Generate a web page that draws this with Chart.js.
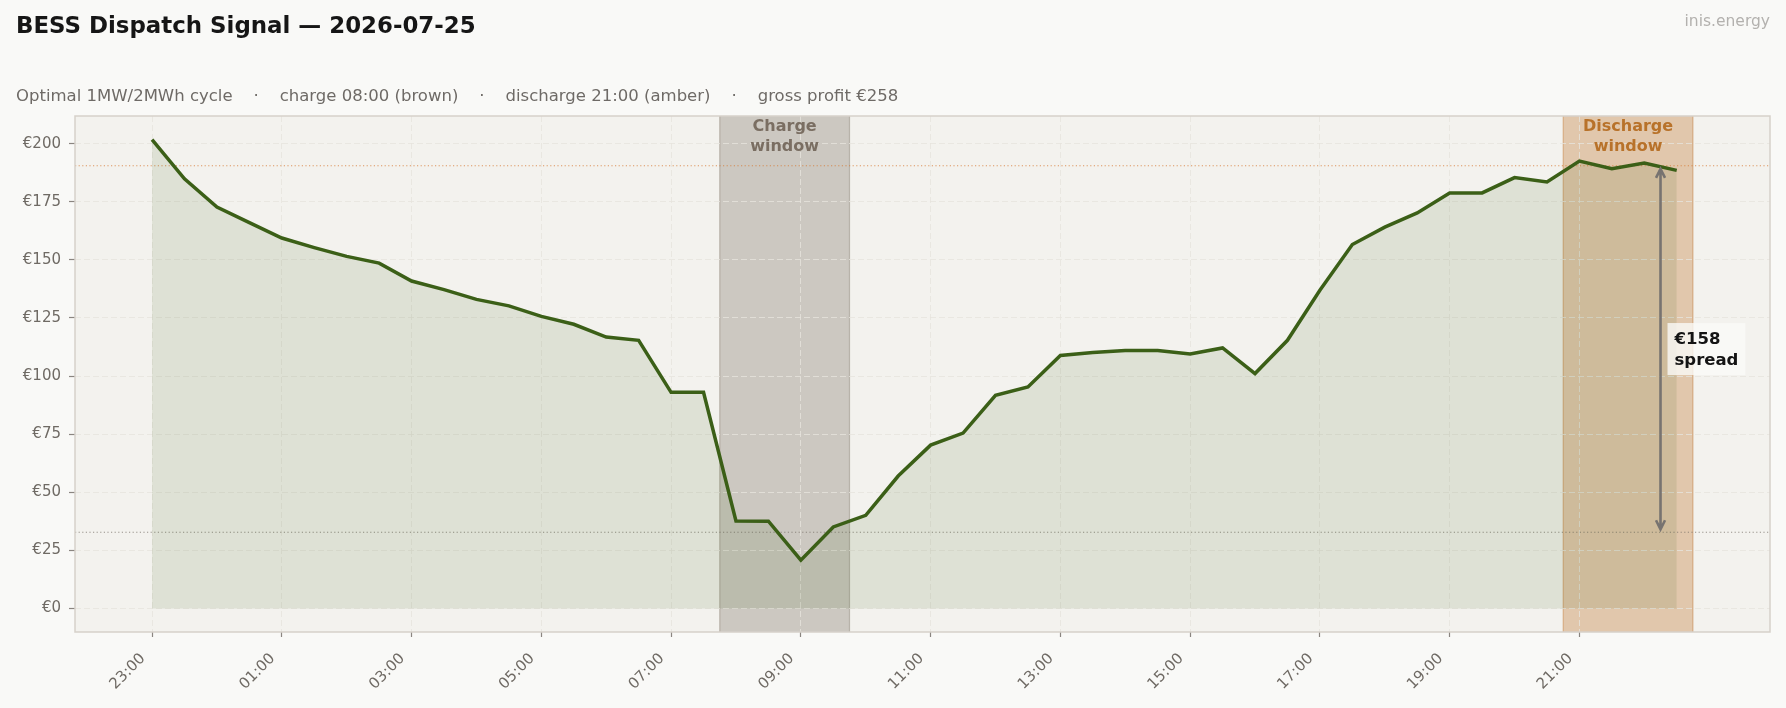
<!DOCTYPE html>
<html>
<head>
<meta charset="utf-8">
<title>BESS Dispatch Signal</title>
<script src="https://cdn.jsdelivr.net/npm/chart.js@4.4.1/dist/chart.umd.min.js"></script>
<style>
  html, body { margin: 0; padding: 0; background: #f9f9f7; }
  #wrap { width: 1786px; height: 708px; position: relative; }
</style>
</head>
<body>
<div id="wrap"><canvas id="bessChart" width="1786" height="708"></canvas></div>
<script>
// half-hourly day-ahead prices, 23:00 -> 22:30
const times = [
    '23:00', '23:30', '00:00', '00:30', '01:00', '01:30', '02:00', '02:30',
    '03:00', '03:30', '04:00', '04:30', '05:00', '05:30', '06:00', '06:30',
    '07:00', '07:30', '08:00', '08:30', '09:00', '09:30', '10:00', '10:30',
    '11:00', '11:30', '12:00', '12:30', '13:00', '13:30', '14:00', '14:30',
    '15:00', '15:30', '16:00', '16:30', '17:00', '17:30', '18:00', '18:30',
    '19:00', '19:30', '20:00', '20:30', '21:00', '21:30', '22:00', '22:30'
];
const prices = [
    201.7, 184.9, 172.7, 166.0, 159.4, 155.3, 151.5, 148.6,
    140.9, 137.2, 133.0, 130.2, 125.7, 122.3, 116.8, 115.4,
    93.0, 93.0, 37.7, 37.6, 20.8, 35.1, 40.1, 57.0,
    70.3, 75.5, 91.7, 95.3, 108.9, 110.1, 111.0, 111.0,
    109.5, 112.1, 101.1, 115.4, 136.9, 156.6, 164.1, 170.2,
    178.8, 178.8, 185.4, 183.5, 192.5, 189.2, 191.7, 188.5
];
const xTickTimes = ['23:00', '01:00', '03:00', '05:00', '07:00', '09:00',
    '11:00', '13:00', '15:00', '17:00', '19:00', '21:00'];
const yTickValues = [0, 25, 50, 75, 100, 125, 150, 175, 200];
const yTickLabels = ['€0', '€25', '€50', '€75', '€100', '€125', '€150', '€175', '€200'];
const chargeWindow = ['07:45', '09:45'];
const dischargeWindow = ['20:45', '22:45'];
const spreadArrowTime = '22:15';

const titleText = 'BESS Dispatch Signal — 2026-07-25';
const subtitleText = 'Optimal 1MW/2MWh cycle    ·    charge 08:00 (brown)    ·    discharge 21:00 (amber)    ·    gross profit €258';

// hours since 23:00 of the previous day
function toHours(t) {
    const [h, m] = t.split(':').map(Number);
    let v = h + m / 60 - 23;
    if (v < 0) v += 24;
    return v;
}

function windowAvg(win) {
    const a = toHours(win[0]), b = toHours(win[1]);
    const vals = prices.filter((p, i) => toHours(times[i]) >= a && toHours(times[i]) <= b);
    return vals.reduce((s, v) => s + v, 0) / vals.length;
}

const chargeAvg = windowAvg(chargeWindow);
const dischargeAvg = windowAvg(dischargeWindow);
const spread = Math.round(dischargeAvg - chargeAvg);

const FONT = "'DejaVu Sans', sans-serif";

const overlay = {
    id: 'overlay',
    beforeDraw(chart) {
        const { ctx, chartArea: a, scales: { x } } = chart;
        ctx.save();
        ctx.fillStyle = '#f3f2ee';
        ctx.fillRect(a.left, a.top, a.width, a.height);
        const span = (win, fill, edge) => {
            const x1 = x.getPixelForValue(toHours(win[0]));
            const x2 = x.getPixelForValue(toHours(win[1]));
            ctx.fillStyle = fill;
            ctx.fillRect(x1, a.top, x2 - x1, a.height);
            ctx.strokeStyle = edge;
            ctx.lineWidth = 1.2;
            ctx.beginPath();
            ctx.moveTo(x1, a.top); ctx.lineTo(x1, a.bottom);
            ctx.moveTo(x2, a.top); ctx.lineTo(x2, a.bottom);
            ctx.stroke();
        };
        span(chargeWindow, 'rgba(116,102,88,0.30)', 'rgba(116,102,88,0.35)');
        span(dischargeWindow, 'rgba(184,100,20,0.30)', 'rgba(184,100,20,0.35)');
        ctx.restore();
    },
    beforeDatasetsDraw(chart) {
        const { ctx, chartArea: a, scales: { y } } = chart;
        ctx.save();
        ctx.lineWidth = 1.1;
        ctx.setLineDash([1.2, 2.4]);
        const hline = (v, color) => {
            const py = y.getPixelForValue(v);
            ctx.strokeStyle = color;
            ctx.beginPath();
            ctx.moveTo(a.left, py);
            ctx.lineTo(a.right, py);
            ctx.stroke();
        };
        hline(dischargeAvg, 'rgba(214,120,50,0.75)');
        hline(chargeAvg, 'rgba(120,112,104,0.75)');
        ctx.restore();
    },
    afterDatasetsDraw(chart) {
        const { ctx, chartArea: a, scales: { x, y } } = chart;
        ctx.save();

        // window labels
        ctx.font = 'bold 16px ' + FONT;
        ctx.textAlign = 'center';
        ctx.textBaseline = 'alphabetic';
        const winLabel = (win, color, l1) => {
            const cx = (x.getPixelForValue(toHours(win[0])) + x.getPixelForValue(toHours(win[1]))) / 2;
            ctx.fillStyle = color;
            ctx.fillText(l1, cx, a.top + 15);
            ctx.fillText('window', cx, a.top + 35);
        };
        winLabel(chargeWindow, '#7a6e62', 'Charge');
        winLabel(dischargeWindow, '#b8722a', 'Discharge');

        // spread arrow
        const ax = x.getPixelForValue(toHours(spreadArrowTime));
        const yHi = y.getPixelForValue(dischargeAvg) + 3;
        const yLo = y.getPixelForValue(chargeAvg) - 3;
        ctx.strokeStyle = '#777370';
        ctx.lineWidth = 2.6;
        ctx.beginPath();
        ctx.moveTo(ax, yHi); ctx.lineTo(ax, yLo);
        ctx.moveTo(ax - 4.5, yHi + 9); ctx.lineTo(ax, yHi); ctx.lineTo(ax + 4.5, yHi + 9);
        ctx.moveTo(ax - 4.5, yLo - 9); ctx.lineTo(ax, yLo); ctx.lineTo(ax + 4.5, yLo - 9);
        ctx.stroke();

        // spread label
        const midY = y.getPixelForValue((dischargeAvg + chargeAvg) / 2);
        const tx = ax + 14;
        ctx.font = 'bold 16.5px ' + FONT;
        const l1 = '€' + spread, l2 = 'spread';
        const w = Math.max(ctx.measureText(l1).width, ctx.measureText(l2).width);
        ctx.fillStyle = 'rgba(250,250,248,0.8)';
        ctx.fillRect(tx - 7, midY - 26, w + 14, 52);
        ctx.fillStyle = '#141414';
        ctx.textAlign = 'left';
        ctx.textBaseline = 'alphabetic';
        ctx.fillText(l1, tx, midY - 5);
        ctx.fillText(l2, tx, midY + 16);

        // frame
        ctx.strokeStyle = '#d6d1ca';
        ctx.lineWidth = 1.5;
        ctx.strokeRect(a.left, a.top, a.width, a.height);
        ctx.restore();
    },
    afterDraw(chart) {
        const { ctx } = chart;
        ctx.save();
        ctx.textBaseline = 'alphabetic';
        ctx.textAlign = 'left';
        ctx.fillStyle = '#161616';
        ctx.font = 'bold 22.9px ' + FONT;
        ctx.fillText(titleText, 16, 33);
        ctx.fillStyle = '#6e6a66';
        ctx.font = '16.5px ' + FONT;
        ctx.fillText(subtitleText, 16, 101);
        ctx.fillStyle = '#b3b1ae';
        ctx.font = '15.5px ' + FONT;
        ctx.textAlign = 'right';
        ctx.fillText('inis.energy', 1770, 26);
        ctx.restore();
    }
};

const ctx = document.getElementById('bessChart').getContext('2d');
new Chart(ctx, {
    type: 'line',
    data: {
        datasets: [{
            label: 'Price',
            data: prices.map((p, i) => ({ x: toHours(times[i]), y: p })),
            borderColor: '#3b5f17',
            backgroundColor: 'rgba(58,95,22,0.11)',
            borderWidth: 3.5,
            pointRadius: 0,
            tension: 0,
            fill: 'origin'
        }]
    },
    options: {
        responsive: false,
        animation: false,
        layout: { padding: { top: 116, right: 16, left: 0, bottom: 0 } },
        plugins: {
            legend: { display: false },
            tooltip: { enabled: false }
        },
        scales: {
            x: {
                type: 'linear',
                min: -1.1875,
                max: 24.9375,
                afterBuildTicks: s => { s.ticks = xTickTimes.map(t => ({ value: toHours(t) })); },
                afterFit: s => { s.height = 76; s.paddingLeft = 0; s.paddingRight = 0; },
                border: { display: false, dash: [6, 3] },
                grid: {
                    color: '#e6e3dd',
                    lineWidth: 0.8,
                    tickColor: '#8a8580',
                    tickLength: 5,
                    tickWidth: 1.2
                },
                ticks: {
                    autoSkip: false,
                    minRotation: 45,
                    maxRotation: 45,
                    padding: 13,
                    labelOffset: -9,
                    color: '#6f6a64',
                    font: { family: FONT, size: 15 },
                    callback: v => xTickTimes.find(t => toHours(t) === v)
                }
            },
            y: {
                min: -10.1,
                max: 211.9,
                afterBuildTicks: s => { s.ticks = yTickValues.map(v => ({ value: v })); },
                afterFit: s => { s.width = 75; s.paddingTop = 0; s.paddingBottom = 0; },
                border: { display: false, dash: [6, 3] },
                grid: {
                    color: '#e6e3dd',
                    lineWidth: 0.8,
                    tickColor: '#8a8580',
                    tickLength: 6,
                    tickWidth: 1.2
                },
                ticks: {
                    padding: 8,
                    color: '#6f6a64',
                    font: { family: FONT, size: 15 },
                    callback: v => yTickLabels[yTickValues.indexOf(v)]
                }
            }
        }
    },
    plugins: [overlay]
});
</script>
</body>
</html>
